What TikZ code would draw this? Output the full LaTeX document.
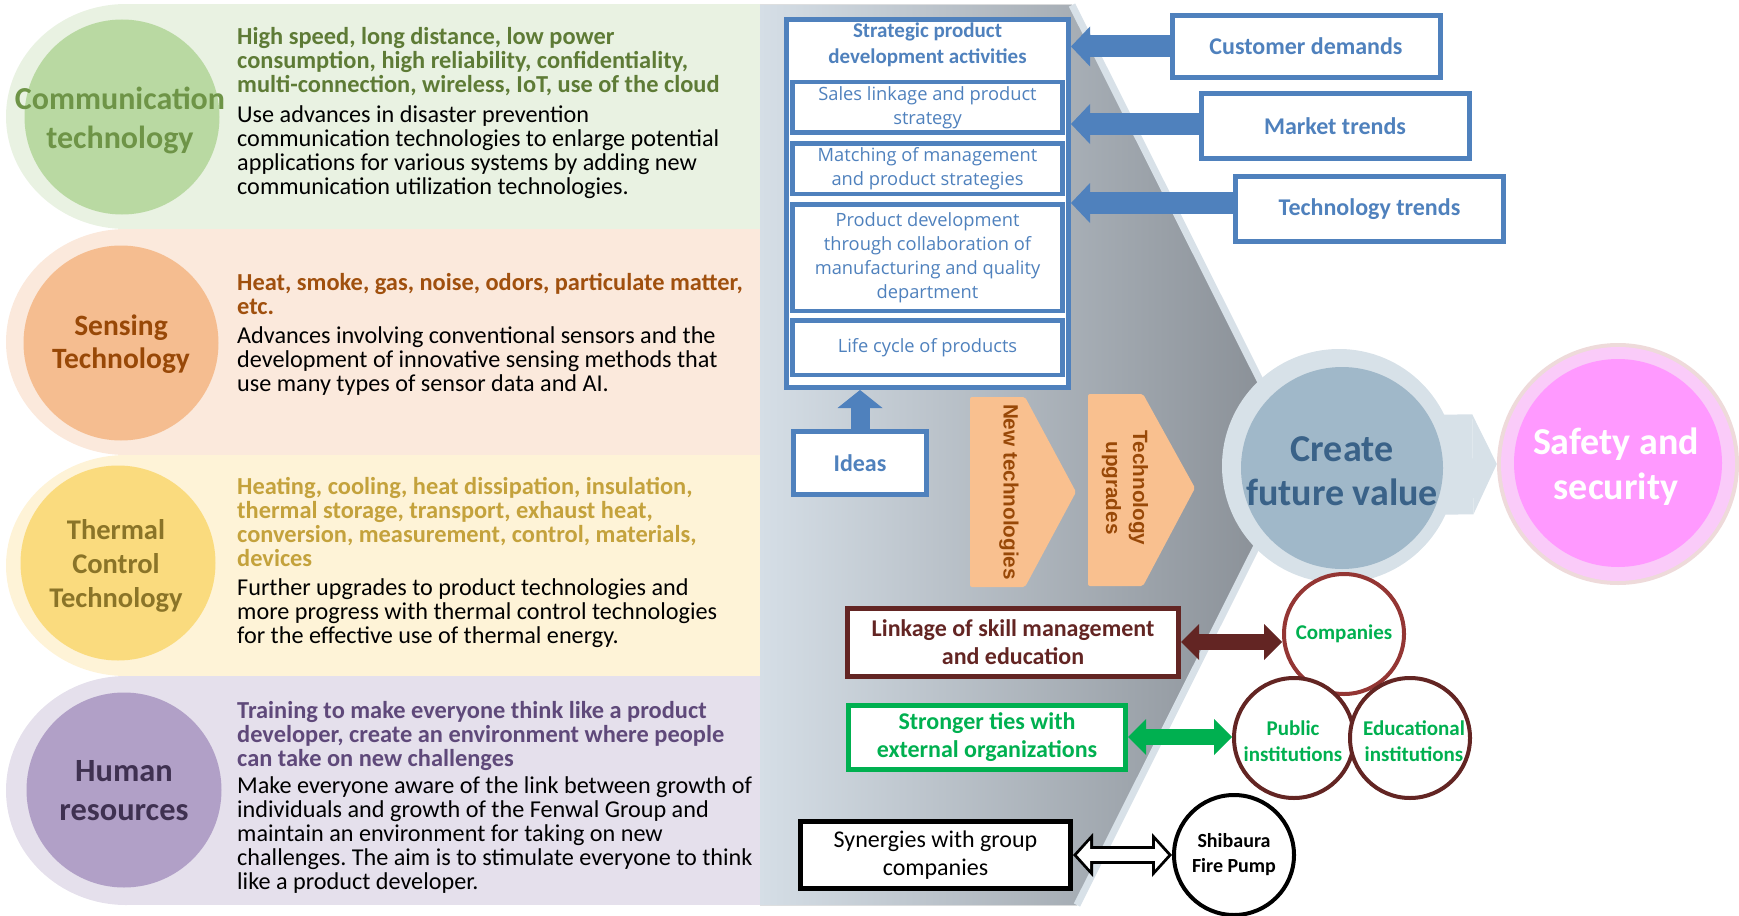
\documentclass[tikz,border=0pt]{standalone}
\usepackage{fontspec}
\setmainfont{Carlito}
\newfontfamily\boxfont{Open Sans}
\newfontfamily\arrowfont{Liberation Sans}
\usetikzlibrary{arrows.meta, positioning, shapes.geometric, backgrounds}
\definecolor{myblue}{HTML}{4F81BD}
\definecolor{commband}{HTML}{E9F2E2}
\definecolor{commcirc}{HTML}{B9D9A2}
\definecolor{commtext}{HTML}{6E9447}
\definecolor{commhead}{HTML}{5E7B36}
\definecolor{sensband}{HTML}{FBE9DC}
\definecolor{senscirc}{HTML}{F5BD90}
\definecolor{senstext}{HTML}{984807}
\definecolor{senshead}{HTML}{A0500E}
\definecolor{thermband}{HTML}{FEF3D7}
\definecolor{thermcirc}{HTML}{FADB7E}
\definecolor{thermtext}{HTML}{8A7428}
\definecolor{thermhead}{HTML}{C4A23C}
\definecolor{humband}{HTML}{E5E0EC}
\definecolor{humcirc}{HTML}{B1A0C7}
\definecolor{humtext}{HTML}{3F3151}
\definecolor{humhead}{HTML}{5F497A}
\definecolor{chevlt}{HTML}{D5DEE6}
\definecolor{chevdk}{HTML}{858B92}
\definecolor{chevedge}{HTML}{D8E1E8}
\definecolor{orangefill}{HTML}{F9C08F}
\definecolor{orangetext}{HTML}{984807}
\definecolor{cfvring}{HTML}{D7E1E8}
\definecolor{cfvfill}{HTML}{A0B8C9}
\definecolor{cfvtext}{HTML}{3A6288}
\definecolor{safering}{HTML}{FACBF9}
\definecolor{safeedge}{HTML}{EEDADA}
\definecolor{safefill}{HTML}{FF99FF}
\definecolor{maroon}{HTML}{632523}
\definecolor{compred}{HTML}{943634}
\definecolor{tiegreen}{HTML}{00B050}
\newcommand{\bandsize}{\fontsize{24.2}{24}\selectfont}
\frenchspacing

\begin{document}
\begin{tikzpicture}[x=1pt, y=-1pt,
  bandtxt/.style={anchor=base west, align=left, inner sep=0pt, font=\bandsize},
  headtxt/.style={bandtxt, font=\fontsize{24.4}{24}\selectfont\bfseries},
  bluebox/.style={draw=myblue, line width=5pt, fill=white, text=myblue, inner sep=0pt},
  subbox/.style={draw=myblue, line width=4.5pt, fill=white, text=myblue, align=center,
    inner sep=0pt, minimum width=270pt, font=\boxfont\fontsize{18.3}{24}\selectfont},
  drivebox/.style={bluebox, minimum width=268pt, minimum height=62pt,
    font=\bfseries\fontsize{24}{28}\selectfont},
  bluearrow/.style={draw=myblue, line width=22pt,
    -{Triangle[length=19pt, width=40pt, line width=0pt]}},
  orgbox/.style={draw=#1, line width=5pt, fill=white, text=#1, align=center,
    inner sep=0pt, font=\bfseries\fontsize{24}{28}\selectfont},
  orgcirc/.style={circle, draw=#1, line width=4pt, fill=white, minimum size=120pt, inner sep=0pt},
  orgtxt/.style={align=center, inner sep=0pt, text=tiegreen, font=\bfseries\fontsize{21}{26}\selectfont},
  linkarrow/.style={draw=#1, line width=16pt,
    {Triangle[length=18pt, width=36pt, line width=0pt]}-{Triangle[length=18pt, width=36pt, line width=0pt]}},
  uptxt/.style={rotate=-90, align=center, inner sep=0pt, text=orangetext,
    font=\arrowfont\bfseries\fontsize{20.7}{27}\selectfont}
]
\useasboundingbox (0,0) rectangle (1739,915);

\foreach \t/\b/\c in {4/229/commband, 229/455/sensband, 455/676/thermband, 676/905/humband}{
  \fill[\c] (126,{(\t+\b)/2}) ellipse [x radius=120, y radius={(\b-\t)/2}];
  \fill[\c] (126,\t) rectangle (760,\b);
}
\foreach \n/\x/\y/\c in {comm/122/117/commcirc, sens/121/343/senscirc,
                         therm/118/563/thermcirc, hum/124/790/humcirc}{
  \node[circle, fill=\c, minimum size=195pt, inner sep=0pt] (\n) at (\x,\y) {};
}
\node[align=center, inner sep=0pt, text=commtext, font=\bfseries\fontsize{32}{39}\selectfont]
  (commlbl) at (120,120) {Communication\\technology};
\node[align=center, inner sep=0pt, text=senstext, font=\bfseries\fontsize{29.5}{33}\selectfont]
  (senslbl) at (121,344) {Sensing\\Technology};
\node[align=center, inner sep=0pt, text=thermtext, font=\bfseries\fontsize{28.5}{34}\selectfont]
  (thermlbl) at (116,566) {Thermal\\Control\\Technology};
\node[align=center, inner sep=0pt, text=humtext, font=\bfseries\fontsize{32.4}{39}\selectfont]
  (humlbl) at (124,791) {Human\\resources};

\node[headtxt, text=commhead] (commhd) at (237,93)
  {High speed, long distance, low power\\consumption, high reliability, confidentiality,\\multi-connection, wireless, IoT, use of the cloud};
\node[bandtxt] (commtx) at (237,194)
  {Use advances in disaster prevention\\communication technologies to enlarge potential\\applications for various systems by adding new\\communication utilization technologies.};
\node[headtxt, text=senshead] (senshd) at (237,314)
  {Heat, smoke, gas, noise, odors, particulate matter,\\etc.};
\node[bandtxt] (senstx) at (237,391)
  {Advances involving conventional sensors and the\\development of innovative sensing methods that\\use many types of sensor data and AI.};
\node[headtxt, text=thermhead] (thermhd) at (237,566)
  {Heating, cooling, heat dissipation, insulation,\\thermal storage, transport, exhaust heat,\\conversion, measurement, control, materials,\\devices};
\node[bandtxt] (thermtx) at (237,643)
  {Further upgrades to product technologies and\\more progress with thermal control technologies\\for the effective use of thermal energy.};
\node[headtxt, text=humhead] (humhd) at (237,766)
  {Training to make everyone think like a product\\developer, create an environment where people\\can take on new challenges};
\node[bandtxt] (humtx) at (237,889)
  {Make everyone aware of the link between growth of\\individuals and growth of the Fenwal Group and\\maintain an environment for taking on new\\challenges. The aim is to stimulate everyone to think\\like a product developer.};

% central chevron
\fill[left color=chevlt, right color=chevdk] (760,5) -- (1072,5) -- (1300,460) -- (1077,905) -- (760,905) -- cycle;
\draw[chevedge, line width=7pt] (1072,5) -- (1300,460) -- (1077,905);

\node[bluebox, minimum width=282pt, minimum height=368pt] (strat) at (927.5,203.5) {};
\node[align=center, text=myblue, inner sep=0pt, font=\bfseries\fontsize{21}{26}\selectfont]
  (strattl) at (927.5,45) {Strategic product\\development activities};
\node[subbox, minimum height=50.5pt] (sales) at (927.5,107.5) {Sales linkage and product\\strategy};
\node[subbox, minimum height=50.5pt, below=6pt of sales] (match) {Matching of management\\and product strategies};
\node[subbox, minimum height=106.5pt, below=6pt of match] (prodev)
  {Product development\\through collaboration of\\manufacturing and quality\\department};
\node[subbox, minimum height=54.5pt, below=5pt of prodev] (life) {Life cycle of products};

\node[drivebox] (cust) at (1306,46.5) {Customer demands};
\node[drivebox, minimum height=65pt] (mkt) at (1335,126) {Market trends};
\node[drivebox, minimum height=65pt] (tech) at (1369.5,209) {Technology trends};
\draw[bluearrow] (cust.west) -- (cust.west -| strat.east);
\draw[bluearrow] ([yshift=2pt]mkt.west) -- ([yshift=2pt]mkt.west -| strat.east);
\draw[bluearrow] ([yshift=6pt]tech.west) -- ([yshift=6pt]tech.west -| strat.east);

\node[bluebox, minimum width=133pt, minimum height=63pt, font=\bfseries\fontsize{24}{28}\selectfont]
  (ideas) at (860,463) {Ideas};
\draw[bluearrow, line width=19pt, -{Triangle[length=18pt, width=45pt, line width=0pt]}]
  (ideas.north) -- (ideas.north |- strat.south);

\fill[orangefill, rounded corners=2pt] (970,397) -- (1025,397) -- (1076,492) -- (1025,587) -- (970,587) -- cycle;
\fill[orangefill, rounded corners=2pt] (1088,394) -- (1143,394) -- (1195,488) -- (1143,586) -- (1088,586) -- cycle;
\node[uptxt] (newtech) at (1009,492) {New technologies};
\node[uptxt] (techup) at (1125,488) {Technology\\upgrades};

% value circles
\node[circle, fill=safeedge, minimum size=242pt, inner sep=0pt] (safeo) at (1618,464) {};
\node[circle, fill=safering, minimum size=234pt, inner sep=0pt] (safem) at (1618,464) {};
\node[circle, fill=safefill, minimum size=208pt, inner sep=0pt] (safei) at (1618,463) {};
\node[circle, fill=cfvring, minimum size=234pt, inner sep=0pt] (cfvo) at (1339,466) {};
\node[circle, fill=cfvfill, minimum size=202pt, inner sep=0pt] (cfvi) at (1342,468) {};
\begin{scope}[on background layer]
\draw[cfvring, line width=100pt, -{Triangle[length=24pt, width=100pt, line width=0pt]}]
  (cfvo.center) -- (safeo.west);
\end{scope}
\node[align=center, inner sep=0pt, text=cfvtext, font=\bfseries\fontsize{38}{44}\selectfont]
  (cfvlbl) at (1342,471) {Create\\future value};
\node[align=center, inner sep=0pt, text=white, font=\bfseries\fontsize{38}{45}\selectfont]
  (safelbl) at (1616,467) {Safety and\\security};

% organisations
\node[orgcirc=compred] (comp) at (1344,634) {};
\node[orgcirc=maroon] (pub) at (1294,738) {};
\node[orgcirc=maroon] (edu) at (1410,738) {};
\node[orgcirc=black] (pump) at (1234,855) {};
\node[orgtxt] (complbl) at (comp) {Companies};
\node[orgtxt] (publbl) at (1293,741) {Public\\institutions};
\node[orgtxt] (edulbl) at (1414,741) {Educational\\institutions};
\node[orgtxt, text=black, font=\bfseries\fontsize{20}{25}\selectfont] (pumplbl) at (1234,855) {Shibaura\\Fire Pump};

\node[orgbox=maroon, minimum width=331pt, minimum height=68pt] (link) at (1013,642)
  {Linkage of skill management\\and education};
\node[orgbox=tiegreen, minimum width=277pt, minimum height=64pt] (ties) at (987,737)
  {Stronger ties with\\external organizations};
\node[orgbox=black, minimum width=270pt, minimum height=67pt, font=\fontsize{24}{28}\selectfont]
  (syn) at (935.5,855) {Synergies with group\\companies};
\draw[linkarrow=maroon] (link.east) -- (link.east -| comp.west);
\draw[linkarrow=tiegreen] (ties.east) -- (ties.east -| pub.west);
\draw[linkarrow=black, line width=18pt,
  {Triangle[length=20pt, width=44pt, line width=0pt]}-{Triangle[length=20pt, width=44pt, line width=0pt]}]
  (syn.east) -- (pump.west);
\draw[linkarrow=white, line width=12pt, shorten <=4pt, shorten >=4pt,
  {Triangle[length=13pt, width=29pt, line width=0pt]}-{Triangle[length=13pt, width=29pt, line width=0pt]}]
  (syn.east) -- (pump.west);
\end{tikzpicture}
\end{document}
